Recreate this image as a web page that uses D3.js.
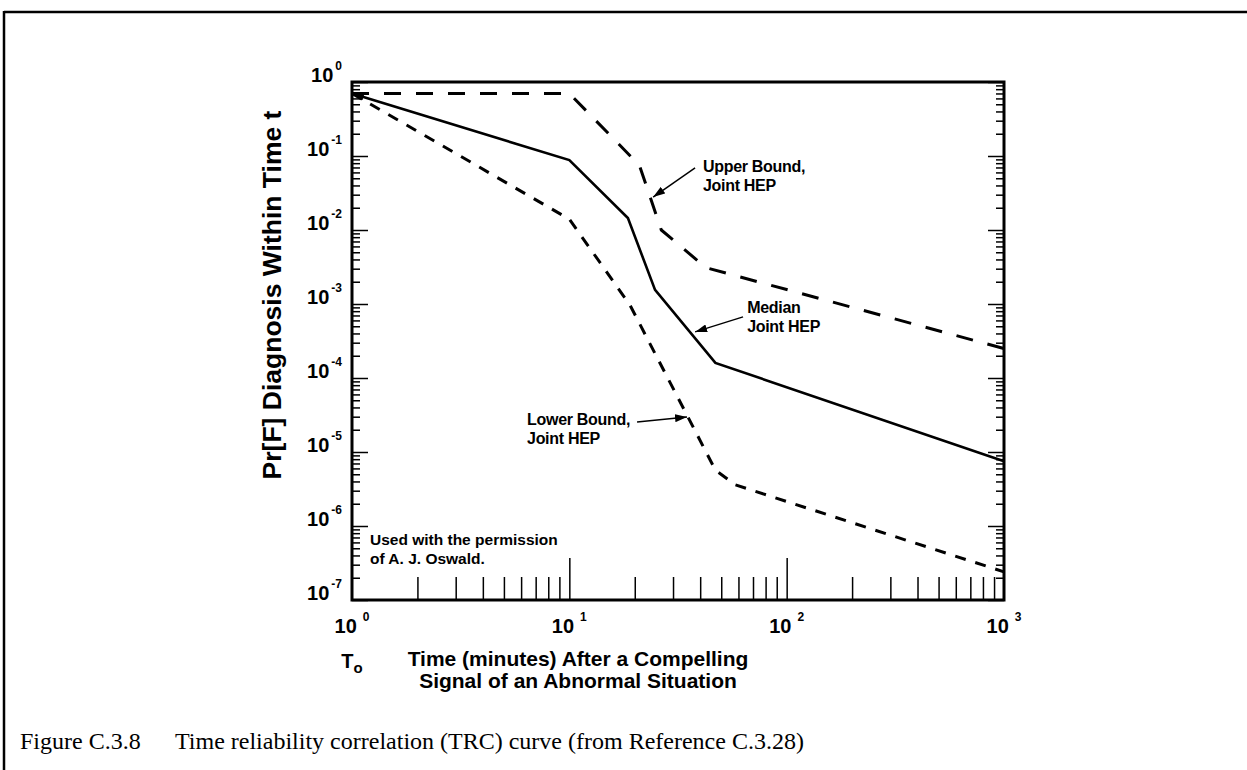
<!DOCTYPE html>
<html><head><meta charset="utf-8">
<script src="https://cdn.jsdelivr.net/npm/d3@7"></script>
<style>body{margin:0;background:#fff;} svg{display:block;}</style>
</head><body>
<svg id="c" width="1247" height="770"></svg>
<script>
// ---- data ----
const upperT  = [1, 10, 21, 26.5, 42.5, 1000];
const upperP  = [0.7, 0.7, 0.075, 0.010, 0.0031, 0.00025];
const medianT = [1, 10, 18.6, 24.8, 47, 1000];
const medianP = [0.7, 0.088, 0.0145, 0.00155, 0.00016, 0.0000075];
const lowerT  = [1, 10, 19, 47, 58, 1000];
const lowerP  = [0.7, 0.014, 0.00097, 0.0000057, 0.0000036, 0.00000024];
const xTickExps = [0, 1, 2, 3];
const yTickExps = [0, -1, -2, -3, -4, -5, -6, -7];
const annUpper  = {lines:["Upper Bound,","Joint HEP"], t:41.2, p:0.0606, from:[37.9,0.0689], to:[24.3,0.0279]};
const annMedian = {lines:["Median","Joint HEP"], t:65.8, p:0.00076, from:[63,0.00067], to:[37.9,0.00042]};
const annLower  = {lines:["Lower Bound,","Joint HEP"], t:6.39, p:0.000023, from:[20.5,0.0000254], to:[34.8,0.0000297]};
const annPerm   = {lines:["Used with the permission","of A. J. Oswald."], t:1.21, p:0.00000055};
const xTitle = ["Time (minutes) After a Compelling","Signal of an Abnormal Situation"];
const yTitle = "Pr[F] Diagnosis Within Time t";
const captionNum = "Figure C.3.8";
const captionText = "Time reliability correlation (TRC) curve (from Reference C.3.28)";

const svg = d3.select("#c");
const L = 352, R = 1004, T = 82, B = 600;
const x = d3.scaleLog().domain([1, 1000]).range([L, R]);
const y = d3.scaleLog().domain([1, 1e-7]).range([T, B]);
const sans = "'Liberation Sans', Arial, Helvetica, sans-serif";

// outer figure border
svg.append("line").attr("x1",4).attr("x2",1247).attr("y1",12).attr("y2",12).attr("stroke","#000").attr("stroke-width",2.5);
svg.append("line").attr("x1",4).attr("x2",4).attr("y1",11).attr("y2",770).attr("stroke","#000").attr("stroke-width",2.5);

// markers
const defs = svg.append("defs");
defs.append("marker").attr("id","ah").attr("viewBox","0 0 12 8").attr("refX",12).attr("refY",4)
  .attr("markerWidth",12).attr("markerHeight",8).attr("markerUnits","userSpaceOnUse").attr("orient","auto-start-reverse")
  .append("path").attr("d","M0,0 L12,4 L0,8 z").attr("fill","#000");

// ticks
const xMinor = [], xMajor = [10, 100];
[1,10,100].forEach(d => { for (let m=2;m<=9;m++) xMinor.push(d*m); });
const yMinor = [], yMajor = [];
for (let k=-7;k<=0;k++){ yMajor.push(Math.pow(10,k)); if(k<0) for(let m=2;m<=9;m++) yMinor.push(m*Math.pow(10,k)); }

function clean(g){ g.select(".domain").remove(); g.selectAll("text").remove(); g.selectAll("line").attr("stroke","#000"); }
svg.append("g").attr("transform",`translate(0,${B})`).call(d3.axisBottom(x).tickValues(xMinor).tickSize(-23).tickFormat(""))
  .call(clean).selectAll("line").attr("stroke-width",1.5);
svg.append("g").attr("transform",`translate(0,${B})`).call(d3.axisBottom(x).tickValues(xMajor).tickSize(-42).tickFormat(""))
  .call(clean).selectAll("line").attr("stroke-width",1.5);
svg.append("g").attr("transform",`translate(${L},0)`).call(d3.axisLeft(y).tickValues(yMinor).tickSize(-8).tickFormat(""))
  .call(clean).selectAll("line").attr("stroke-width",1.5);
svg.append("g").attr("transform",`translate(${L},0)`).call(d3.axisLeft(y).tickValues(yMajor).tickSize(-16).tickFormat(""))
  .call(clean).selectAll("line").attr("stroke-width",1.5);
svg.append("g").attr("transform",`translate(${R},0)`).call(d3.axisRight(y).tickValues(yMinor).tickSize(-8).tickFormat(""))
  .call(clean).selectAll("line").attr("stroke-width",1.5);
svg.append("g").attr("transform",`translate(${R},0)`).call(d3.axisRight(y).tickValues(yMajor).tickSize(-16).tickFormat(""))
  .call(clean).selectAll("line").attr("stroke-width",1.5);

// frame
svg.append("rect").attr("x",L).attr("y",T).attr("width",R-L).attr("height",B-T)
  .attr("fill","none").attr("stroke","#000").attr("stroke-width",3);

// tick labels
xTickExps.forEach(e => {
  const t = svg.append("text").attr("x", x(Math.pow(10,e))).attr("y", B+33).attr("text-anchor","middle")
    .attr("font-family",sans).attr("font-weight","bold").attr("font-size",20);
  t.append("tspan").text("10");
  t.append("tspan").attr("dx",6).attr("dy",-12).attr("font-size",12).text(String(e));
});
yTickExps.forEach(e => {
  const t = svg.append("text").attr("x", L-10).attr("y", y(Math.pow(10,e))).attr("text-anchor","end")
    .attr("font-family",sans).attr("font-weight","bold").attr("font-size",20);
  t.append("tspan").text("10");
  t.append("tspan").attr("dx",2).attr("dy",-12).attr("font-size",12).text(e===0?"0":"-"+(-e));
});

// curves
const line = d3.line().x(d=>x(d[0])).y(d=>y(d[1]));
svg.append("path").datum(upperT.map((t,i)=>[t,upperP[i]])).attr("d",line).attr("fill","none")
  .attr("stroke","#000").attr("stroke-width",3).attr("stroke-dasharray","17,15");
svg.append("path").datum(lowerT.map((t,i)=>[t,lowerP[i]])).attr("d",line).attr("fill","none")
  .attr("stroke","#000").attr("stroke-width",3).attr("stroke-dasharray","11,10");
svg.append("path").datum(medianT.map((t,i)=>[t,medianP[i]])).attr("d",line).attr("fill","none")
  .attr("stroke","#000").attr("stroke-width",2.6).attr("marker-start","url(#ah)");

// annotations
function ann(a, fs, ls){
  const t = svg.append("text").attr("x",x(a.t)).attr("y",y(a.p)).attr("font-family",sans)
    .attr("font-weight","bold").attr("font-size",fs).attr("letter-spacing",ls);
  a.lines.forEach((s,i)=> t.append("tspan").attr("x",x(a.t)).attr("dy", i?fs*1.2:0).text(s));
  if (a.from) svg.append("line").attr("x1",x(a.from[0])).attr("y1",y(a.from[1]))
    .attr("x2",x(a.to[0])).attr("y2",y(a.to[1])).attr("stroke","#000").attr("stroke-width",1.5)
    .attr("marker-end","url(#ah)");
}
ann(annUpper,16,-0.3); ann(annMedian,16,-0.3); ann(annLower,16,-0.3); ann(annPerm,15.5,0);

// axis titles
svg.append("text").attr("transform",`translate(281,${(T+B)/2-46}) rotate(-90)`).attr("text-anchor","middle")
  .attr("font-family",sans).attr("font-weight","bold").attr("font-size",26.5).text(yTitle);
xTitle.forEach((s,i)=> svg.append("text").attr("x",578).attr("y",666+i*22).attr("text-anchor","middle")
  .attr("font-family",sans).attr("font-weight","bold").attr("font-size",21).text(s));
const t0 = svg.append("text").attr("x",x(1)).attr("y",668).attr("text-anchor","middle")
  .attr("font-family",sans).attr("font-weight","bold").attr("font-size",20);
t0.append("tspan").text("T");
t0.append("tspan").attr("dy",5).attr("font-size",15).text("o");

// caption
const serif = "'Liberation Serif', 'Times New Roman', serif";
svg.append("text").attr("x",20).attr("y",749).attr("font-family",serif).attr("font-size",24).text(captionNum);
svg.append("text").attr("x",175).attr("y",749).attr("font-family",serif).attr("font-size",24).text(captionText);
</script>
</body></html>
